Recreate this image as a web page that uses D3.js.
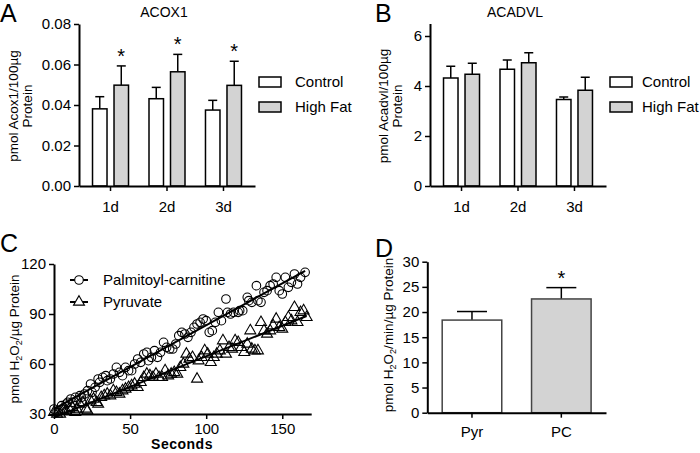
<!DOCTYPE html>
<html>
<head>
<meta charset="utf-8">
<title>Figure</title>
<script src="https://d3js.org/d3.v7.min.js"></script>
<style>
  body { margin: 0; background: #fff; }
  svg text { font-family: "Liberation Sans", Arial, sans-serif; fill: #000; }
</style>
</head>
<body>
<div id="chart"></div>
<script>
// ---- data ----
var days = ["1d", "2d", "3d"];
var groups = ["Control", "High Fat"];

var acoxControl = [0.0381, 0.0431, 0.0375];
var acoxControlErr = [0.0060, 0.0056, 0.0048];
var acoxHighFat = [0.0498, 0.0564, 0.0497];
var acoxHighFatErr = [0.0095, 0.0086, 0.0119];
var acoxStars = [true, true, true];

var acadControl = [4.32, 4.67, 3.46];
var acadControlErr = [0.47, 0.37, 0.10];
var acadHighFat = [4.47, 4.93, 3.83];
var acadHighFatErr = [0.44, 0.40, 0.52];
var acadStars = [false, false, false];

// panel C: seconds vs pmol H2O2/ug protein
var pcSeconds = [0, 1.5, 3, 5, 6, 8, 9, 11, 12, 14, 15, 17, 18, 20, 22, 24, 25, 27, 29, 30,
  32, 34, 35, 37, 39, 41, 43, 45, 47, 49, 51, 53, 55, 57, 59, 61, 62, 64, 66, 68,
  70, 72, 74, 76, 78, 80, 82, 84, 86, 88, 90, 92, 94, 96, 98, 100, 102, 104, 106, 108,
  110, 113, 114, 116, 118, 121, 122, 124, 127, 128, 130, 133, 134, 136, 138, 140, 142, 144, 146, 148,
  150, 152, 154, 156, 158, 160, 162, 165];
var pcValues = [33, 31, 32, 35, 33, 36, 37, 39, 37, 40, 38, 41, 40, 42, 44, 48, 43, 46, 51, 49,
  52, 53, 50, 51, 54, 58, 55, 53, 58, 56, 56, 60, 63, 61, 66, 67, 62, 64, 68, 64,
  67, 73, 70, 69, 69, 72, 77, 79, 78, 76, 79, 82, 84, 85, 87, 86, 79, 80, 85, 91,
  86, 99, 91, 90, 91, 91, 92, 92, 100, 98, 97, 107, 98, 97, 103, 104, 107, 108, 112, 104,
  102, 112, 106, 109, 114, 108, 112, 115];
var pyrSeconds = [0, 2, 4, 6, 8, 10, 12, 14, 15, 17, 19, 21, 22, 24, 26, 28, 29, 31, 33, 35,
  37, 39, 41, 43, 45, 47, 49, 51, 53, 55, 57, 59, 61, 63, 65, 67, 69, 71, 73, 75,
  77, 79, 81, 83, 85, 87, 89, 91, 94, 95, 97, 99, 101, 103, 105, 107, 109, 111, 113, 115,
  117, 119, 121, 123, 125, 127, 129, 130, 132, 134, 136, 138, 140, 142, 144, 146, 148, 150, 152, 154,
  156, 158, 160, 162, 164, 166];
var pyrValues = [31, 30, 30, 32, 32, 33, 34, 31, 33, 36, 37, 33, 32, 38, 39, 37, 36, 40, 41, 42,
  41, 44, 43, 42, 44, 45, 46, 47, 48, 46, 49, 52, 54, 53, 52, 54, 52, 52, 56, 53,
  54, 55, 54, 58, 60, 66, 63, 64, 51, 62, 64, 68, 66, 61, 64, 66, 68, 74, 66, 70,
  69, 74, 73, 70, 67, 72, 80, 69, 68, 68, 85, 80, 78, 80, 83, 87, 82, 81, 85, 88,
  86, 94, 85, 91, 92, 88];

// panel D
var rateLabels = ["Pyr", "PC"];
var rateValues = [18.4, 22.6];
var rateErr = [1.7, 2.25];
var rateStars = [false, true];

var fills = ["#ffffff", "#d3d3d3"];

var svg = d3.select("#chart").append("svg")
  .attr("width", 700).attr("height", 453);
svg.append("rect").attr("width", 700).attr("height", 453).attr("fill", "#fff");

function styleAxis(g, fs) {
  g.select(".domain").attr("stroke", "#000").attr("stroke-width", 2);
  g.selectAll(".tick line").attr("stroke", "#000").attr("stroke-width", 1.5);
  g.selectAll(".tick text").attr("font-size", fs).attr("fill", "#000")
    .attr("font-family", "'Liberation Sans', Arial, sans-serif");
}

function letter(t, x, y) {
  svg.append("text").attr("x", x).attr("y", y).attr("font-size", 25).text(t);
}

function yLabel(lines, x, y) {
  var t = svg.append("text").attr("transform", "translate(" + x + "," + y + ") rotate(-90)")
    .attr("text-anchor", "middle").attr("font-size", 13.5);
  lines.forEach(function(l, i) {
    t.append("tspan").attr("x", 0).attr("dy", i === 0 ? 0 : 14).text(l);
  });
  return t;
}

// grouped bar panel (A and B)
function groupedPanel(o) {
  var y = d3.scaleLinear().domain(o.domain).range([186, o.top]);
  var x = d3.scaleBand().domain(days).range([o.x0, o.x0 + 176]).paddingInner(0).paddingOuter(0.058);
  var x1 = d3.scaleBand().domain(groups)
    .range([x.bandwidth() / 2 - 18, x.bandwidth() / 2 + 18]).paddingInner(0.326);

  var series = [
    {name: groups[0], vals: o.control, errs: o.controlErr, stars: days.map(function() { return false; })},
    {name: groups[1], vals: o.highFat, errs: o.highFatErr, stars: o.stars}
  ];
  var g = svg.append("g");
  series.forEach(function(s, si) {
    days.forEach(function(d, i) {
      var cx = x(d) + x1(s.name) + x1.bandwidth() / 2;
      var top = y(s.vals[i] + s.errs[i]);
      g.append("line").attr("x1", cx).attr("x2", cx).attr("y1", y(s.vals[i])).attr("y2", top)
        .attr("stroke", "#000").attr("stroke-width", 1.5);
      g.append("line").attr("x1", cx - 4.5).attr("x2", cx + 4.5).attr("y1", top).attr("y2", top)
        .attr("stroke", "#000").attr("stroke-width", 1.5);
      g.append("rect").attr("x", x(d) + x1(s.name)).attr("width", x1.bandwidth())
        .attr("y", y(s.vals[i])).attr("height", y(0) - y(s.vals[i]))
        .attr("fill", fills[si]).attr("stroke", "#000").attr("stroke-width", 1.5);
      if (s.stars[i]) {
        g.append("text").attr("x", cx).attr("y", top - 3).attr("text-anchor", "middle")
          .attr("font-size", 20).text("*");
      }
    });
  });

  var ya = svg.append("g").attr("transform", "translate(" + o.x0 + ",0)")
    .call(d3.axisLeft(y).tickValues(o.ticks).tickFormat(o.fmt).tickSize(5).tickSizeOuter(0).tickPadding(3));
  styleAxis(ya, 15);
  var xa = svg.append("g").attr("transform", "translate(0,186)")
    .call(d3.axisBottom(x).tickSize(5).tickSizeOuter(0).tickPadding(10));
  styleAxis(xa, 15);

  svg.append("text").attr("x", o.x0 + 85).attr("y", 17).attr("text-anchor", "middle")
    .attr("font-size", 14).text(o.title);

  groups.forEach(function(name, i) {
    var ly = 82 + i * 25;
    svg.append("rect").attr("x", o.x0 + 180).attr("y", ly - 5).attr("width", 22).attr("height", 10)
      .attr("fill", fills[i]).attr("stroke", "#000").attr("stroke-width", 1.5);
    svg.append("text").attr("x", o.x0 + o.legText).attr("y", ly).attr("dy", "0.35em")
      .attr("font-size", 15).text(name);
  });
}

groupedPanel({
  x0: 79, top: 24, domain: [0, 0.08], ticks: [0, 0.02, 0.04, 0.06, 0.08], fmt: d3.format(".2f"),
  control: acoxControl, controlErr: acoxControlErr, highFat: acoxHighFat, highFatErr: acoxHighFatErr,
  stars: acoxStars, title: "ACOX1", legText: 216
});
groupedPanel({
  x0: 430, top: 23.5, domain: [0, 6.5], ticks: [0, 2, 4, 6], fmt: d3.format("d"),
  control: acadControl, controlErr: acadControlErr, highFat: acadHighFat, highFatErr: acadHighFatErr,
  stars: acadStars, title: "ACADVL", legText: 212
});
yLabel(["pmol Acox1/100\u00b5g", "Protein"], 18, 106);
yLabel(["pmol Acadvl/100\u00b5g", "Protein"], 388, 106);
letter("A", 0, 22);
letter("B", 375, 22);

// ---- panel C ----
var cx = d3.scaleLinear().domain([0, 169]).range([54, 311.2]);
var cy = d3.scaleLinear().domain([30, 120]).range([414, 264]);

function fit(xs, ys) {
  var mx = d3.mean(xs), my = d3.mean(ys);
  var num = d3.sum(xs, function(v, i) { return (v - mx) * (ys[i] - my); });
  var den = d3.sum(xs, function(v) { return (v - mx) * (v - mx); });
  var b = num / den;
  return {b: b, a: my - b * mx};
}

var cg = svg.append("g");
var tri = d3.symbol().type(d3.symbolTriangle).size(52);

cg.selectAll("circle.pc").data(pcSeconds).join("circle").attr("class", "pc")
  .attr("cx", function(d) { return cx(d); })
  .attr("cy", function(d, i) { return cy(pcValues[i]); })
  .attr("r", 4.3).attr("fill", "none").attr("stroke", "#000").attr("stroke-width", 1.1);
cg.selectAll("path.pyr").data(pyrSeconds).join("path").attr("class", "pyr")
  .attr("d", tri)
  .attr("transform", function(d, i) { return "translate(" + cx(d) + "," + cy(pyrValues[i]) + ")"; })
  .attr("fill", "none").attr("stroke", "#000").attr("stroke-width", 1.1);

[[pcSeconds, pcValues], [pyrSeconds, pyrValues]].forEach(function(s) {
  var f = fit(s[0], s[1]);
  var x0 = d3.min(s[0]), x1 = d3.max(s[0]);
  cg.append("line").attr("x1", cx(x0)).attr("y1", cy(f.a + f.b * x0))
    .attr("x2", cx(x1)).attr("y2", cy(f.a + f.b * x1))
    .attr("stroke", "#000").attr("stroke-width", 2);
});

var cya = svg.append("g").attr("transform", "translate(54,0)")
  .call(d3.axisLeft(cy).tickValues([30, 60, 90, 120]).tickSize(5).tickSizeOuter(0).tickPadding(3));
styleAxis(cya, 15);
var cxa = svg.append("g").attr("transform", "translate(0,414)")
  .call(d3.axisBottom(cx).tickValues([0, 50, 100, 150]).tickSize(5).tickSizeOuter(0).tickPadding(4));
styleAxis(cxa, 15);

svg.append("text").attr("x", 182).attr("y", 449).attr("text-anchor", "middle")
  .attr("font-size", 14).attr("font-weight", "bold").attr("letter-spacing", 0.5).text("Seconds");

// legend C
var legC = [{label: "Palmitoyl-carnitine", y: 280, shape: "circle"}, {label: "Pyruvate", y: 302, shape: "tri"}];
legC.forEach(function(l) {
  svg.append("line").attr("x1", 70).attr("x2", 88).attr("y1", l.y).attr("y2", l.y)
    .attr("stroke", "#000").attr("stroke-width", 2);
  if (l.shape === "circle") {
    svg.append("circle").attr("cx", 79).attr("cy", l.y).attr("r", 4.3)
      .attr("fill", "#fff").attr("stroke", "#000").attr("stroke-width", 1.1);
  } else {
    svg.append("path").attr("d", tri).attr("transform", "translate(79," + l.y + ")")
      .attr("fill", "#fff").attr("stroke", "#000").attr("stroke-width", 1.1);
  }
  svg.append("text").attr("x", 103).attr("y", l.y).attr("dy", "0.35em").attr("font-size", 15).text(l.label);
});

var lc = svg.append("text").attr("transform", "translate(19,339) rotate(-90)")
  .attr("text-anchor", "middle").attr("font-size", 13.5);
lc.append("tspan").text("pmol H");
lc.append("tspan").attr("font-size", 9).attr("dy", 3).text("2");
lc.append("tspan").attr("dy", -3).text("O");
lc.append("tspan").attr("font-size", 9).attr("dy", 3).text("2");
lc.append("tspan").attr("dy", -3).text("/\u00b5g Protein");
letter("C", 0, 252);

// ---- panel D ----
var dy = d3.scaleLinear().domain([0, 30]).range([412.7, 261.7]);
var dx = d3.scaleBand().domain(rateLabels).range([427.3, 606]).paddingInner(1 / 3).paddingOuter(1 / 6);
var dg = svg.append("g");
rateLabels.forEach(function(k, i) {
  var c = dx(k) + dx.bandwidth() / 2;
  var top = dy(rateValues[i] + rateErr[i]);
  dg.append("line").attr("x1", c).attr("x2", c).attr("y1", dy(rateValues[i])).attr("y2", top)
    .attr("stroke", "#000").attr("stroke-width", 1.5);
  dg.append("line").attr("x1", c - 15).attr("x2", c + 15).attr("y1", top).attr("y2", top)
    .attr("stroke", "#000").attr("stroke-width", 1.5);
  dg.append("rect").attr("x", dx(k)).attr("width", dx.bandwidth())
    .attr("y", dy(rateValues[i])).attr("height", dy(0) - dy(rateValues[i]))
    .attr("fill", fills[i]).attr("stroke", "#444").attr("stroke-width", 1.5);
  if (rateStars[i]) {
    dg.append("text").attr("x", c).attr("y", top - 3).attr("text-anchor", "middle")
      .attr("font-size", 20).text("*");
  }
});
var dya = svg.append("g").attr("transform", "translate(427.3,0)")
  .call(d3.axisLeft(dy).tickValues([0, 5, 10, 15, 20, 25, 30]).tickSize(5).tickSizeOuter(0).tickPadding(3));
styleAxis(dya, 15);
var dxa = svg.append("g").attr("transform", "translate(0,412.7)")
  .call(d3.axisBottom(dx).tickSize(5).tickSizeOuter(0).tickPadding(9));
styleAxis(dxa, 15);

var ld = svg.append("text").attr("transform", "translate(393,335) rotate(-90)")
  .attr("text-anchor", "middle").attr("font-size", 13.5);
ld.append("tspan").text("pmol H");
ld.append("tspan").attr("font-size", 9).attr("dy", 3).text("2");
ld.append("tspan").attr("dy", -3).text("O");
ld.append("tspan").attr("font-size", 9).attr("dy", 3).text("2");
ld.append("tspan").attr("dy", -3).text("/min/\u00b5g Protein");
letter("D", 375, 257);
</script>
</body>
</html>
